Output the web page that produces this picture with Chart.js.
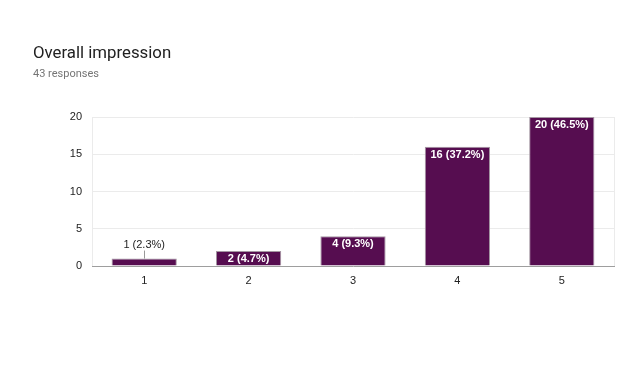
<!DOCTYPE html>
<html>
<head>
<meta charset="utf-8">
<script src="https://cdn.jsdelivr.net/npm/chart.js@4.4.1/dist/chart.umd.min.js"></script>
<style>
html,body{margin:0;padding:0;background:#fff;}
#wrap{position:relative;width:640px;height:366px;}
#title{position:absolute;left:33px;top:42px;font-family:Roboto,sans-serif;font-size:16.8px;line-height:20px;color:#212121;white-space:nowrap;}
#sub{position:absolute;left:33px;top:67px;font-family:Roboto,sans-serif;font-size:11px;line-height:14px;color:#757575;white-space:nowrap;}
canvas{position:absolute;left:0;top:0;}
</style>
</head>
<body>
<div id="wrap">
<canvas id="c" width="640" height="366"></canvas>
<div id="title">Overall impression</div>
<div id="sub">43 responses</div>
</div>
<script>
const categories = ['1', '2', '3', '4', '5'];
const counts = [1, 2, 4, 16, 20];
const percents = ['2.3%', '4.7%', '9.3%', '37.2%', '46.5%'];
const yTicks = [0, 5, 10, 15, 20];

const labelPlugin = {
  id: 'barLabels',
  afterDatasetsDraw(chart) {
    const ctx = chart.ctx;
    const meta = chart.getDatasetMeta(0);
    ctx.save();
    meta.data.forEach((bar, i) => {
      const text = counts[i] + ' (' + percents[i] + ')';
      const h = bar.base - bar.y;
      ctx.textAlign = 'center';
      ctx.textBaseline = 'middle';
      if (h >= 12) {
        ctx.font = 'bold 11px "Liberation Sans", Arial, sans-serif';
        ctx.fillStyle = '#ffffff';
        ctx.fillText(text, bar.x, bar.y + 8);
      } else {
        ctx.font = '11px "Liberation Sans", Arial, sans-serif';
        ctx.fillStyle = '#222222';
        ctx.fillText(text, bar.x, bar.y - 14);
        ctx.strokeStyle = '#999999';
        ctx.lineWidth = 1;
        ctx.beginPath();
        ctx.moveTo(Math.round(bar.x) + 0.5, bar.y - 8);
        ctx.lineTo(Math.round(bar.x) + 0.5, bar.y);
        ctx.stroke();
      }
    });
    ctx.restore();
  }
};

const framePlugin = {
  id: 'frame',
  beforeDatasetsDraw(chart) {
    const {ctx, chartArea} = chart;
    ctx.save();
    ctx.strokeStyle = '#ebebeb';
    ctx.lineWidth = 1;
    ctx.beginPath();
    ctx.moveTo(Math.round(chartArea.right) + 0.5, chartArea.top);
    ctx.lineTo(Math.round(chartArea.right) + 0.5, chartArea.bottom);
    ctx.stroke();
    ctx.restore();
  },
  afterDatasetsDraw(chart) {
    const {ctx, chartArea} = chart;
    ctx.save();
    ctx.strokeStyle = '#9e9e9e';
    ctx.lineWidth = 1;
    ctx.beginPath();
    ctx.moveTo(chartArea.left, Math.round(chartArea.bottom) + 0.5);
    ctx.lineTo(chartArea.right + 1, Math.round(chartArea.bottom) + 0.5);
    ctx.stroke();
    ctx.restore();
  }
};

new Chart(document.getElementById('c'), {
  type: 'bar',
  data: {
    labels: categories,
    datasets: [{
      data: counts,
      backgroundColor: '#560d50',
      borderColor: '#a598a3',
      borderWidth: 1,
      categoryPercentage: 1,
      barPercentage: 0.625
    }]
  },
  options: {
    responsive: false,
    animation: false,
    layout: {padding: {top: 117, right: 26, left: 0, bottom: 0}},
    plugins: {legend: {display: false}, tooltip: {enabled: false}, title: {display: false}},
    scales: {
      x: {
        grid: {display: false, drawTicks: false},
        border: {display: false},
        ticks: {color: '#222', font: {family: '"Liberation Sans", Arial, sans-serif', size: 11}, padding: 8},
        afterFit(s) { s.height = 100; }
      },
      y: {
        min: 0, max: 20,
        afterBuildTicks(s) { s.ticks = yTicks.map(v => ({value: v})); },
        grid: {color: '#ebebeb', drawTicks: false},
        border: {display: true, color: '#ebebeb'},
        ticks: {color: '#222', font: {family: '"Liberation Sans", Arial, sans-serif', size: 11}, padding: 10},
        afterFit(s) { s.width = 92; }
      }
    }
  },
  plugins: [labelPlugin, framePlugin]
});
</script>
</body>
</html>
